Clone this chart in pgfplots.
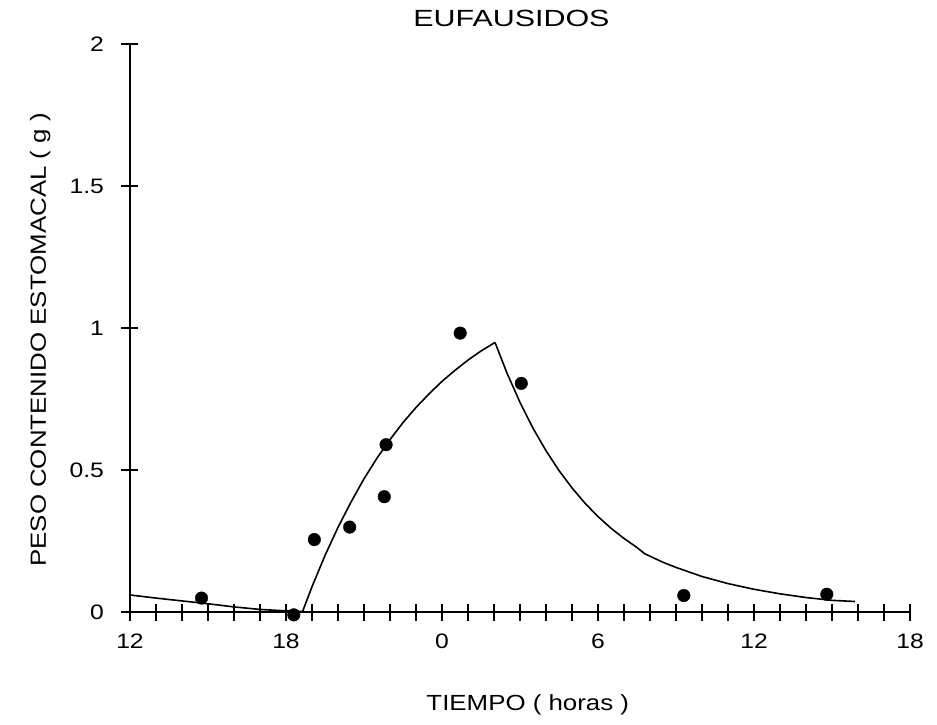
\documentclass[border=0pt]{standalone}
\usepackage{fontspec}
\setmainfont{Liberation Sans}
\newfontfamily\wide[FakeStretch=1.18]{Liberation Sans}
\newfontfamily\twide[FakeStretch=1.3]{Liberation Sans}
\usepackage{pgfplots}
\pgfplotsset{compat=1.18}
\begin{document}
\begin{tikzpicture}
\useasboundingbox (-130bp,-113bp) rectangle (807bp,612bp);
\begin{axis}[
  at={(0,0)}, anchor=south west,
  width=780bp, height=568bp, scale only axis,
  xmin=0, xmax=30, ymin=0, ymax=2,
  axis x line=bottom, axis y line=left,
  axis line style={-, line width=2.2bp},
  clip=false,
  xtick={0,6,...,30}, xticklabels={12,18,0,6,12,18},
  minor xtick={0,1,...,30},
  ytick={0,0.5,1,1.5,2}, yticklabels={0,0.5,1,1.5,2},
  tick align=center,
  major tick length=17bp, minor tick length=17bp,
  every tick/.style={line width=1.2bp, black},
  ticklabel style={font=\fontsize{21}{25}\selectfont\wide},
  xticklabel style={yshift=-10bp},
  yticklabel style={xshift=-14bp},
  title={EUFAUSIDOS},
  title style={at={(axis description cs:0.489,1)}, anchor=base, yshift=12bp, font=\fontsize{23.5}{28}\selectfont\twide},
  xlabel={TIEMPO ( horas )},
  xlabel style={at={(axis description cs:0.51,0)}, anchor=base, yshift=-98.7bp, font=\fontsize{22}{26}\selectfont\wide},
  ylabel={PESO CONTENIDO ESTOMACAL ( g )},
  ylabel style={at={(axis description cs:-0.1077,0.479)}, anchor=base, font=\fontsize{22}{26}\selectfont\wide},
]
% pre-feeding evacuation
\addplot[black, line width=1.6bp, no marks] coordinates {
 (0,0.060) (1,0.049) (2,0.039) (3,0.029) (4,0.018) (5,0.009) (6,0.004) (6.63,0.002)
};
% feeding (ingestion) curve
\addplot[black, line width=1.6bp, no marks] coordinates {
 (6.63,0.000) (7.0,0.089) (7.5,0.199) (8.0,0.298) (8.5,0.387) (9.0,0.469)
 (9.5,0.542) (10.0,0.607) (10.5,0.667) (11.0,0.720) (11.5,0.768) (12.0,0.812)
 (12.5,0.851) (13.0,0.887) (13.5,0.919) (14.04,0.949)
};
% evacuation curve
\addplot[black, line width=1.6bp, no marks] coordinates {
 (14.04,0.949) (14.5,0.841) (15.0,0.738) (15.5,0.647) (16.0,0.568) (16.5,0.498)
 (17.0,0.437) (17.5,0.383) (18.0,0.336) (18.5,0.295) (19.0,0.259) (19.5,0.227)
 (19.8,0.205) (20.5,0.175) (21.0,0.157) (22.0,0.125) (23.0,0.100) (24.0,0.080)
 (25.0,0.064) (26.0,0.051) (27.0,0.041) (27.89,0.037)
};
% observed means
\addplot[only marks, mark=*, mark size=6.3bp, black] coordinates {
 (2.75,0.049) (6.3,-0.01) (7.09,0.255) (8.45,0.299) (9.78,0.406) (9.85,0.589)
 (12.7,0.982) (15.05,0.805) (21.3,0.058) (26.8,0.0625)
};
\end{axis}
\end{tikzpicture}
\end{document}
